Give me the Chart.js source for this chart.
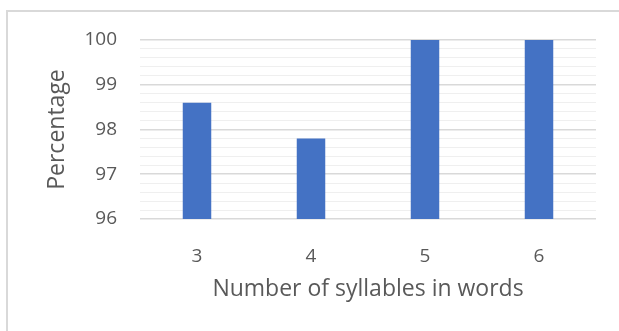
<!DOCTYPE html>
<html>
<head>
<meta charset="utf-8">
<script src="https://cdn.jsdelivr.net/npm/chart.js@4/dist/chart.umd.min.js"></script>
<style>
  html, body { margin: 0; padding: 0; background: #ffffff; }
  #wrap { position: relative; width: 619px; height: 331px; overflow: hidden; }
  #frame { position: absolute; left: 6px; top: 10px; width: 700px; height: 400px;
           border-left: 2px solid #d9d9d9; border-top: 2px solid #d9d9d9; box-sizing: border-box; }
  canvas { position: absolute; left: 0; top: 0; }
</style>
</head>
<body>
<div id="wrap">
  <div id="frame"></div>
  <canvas id="chart" width="619" height="331"></canvas>
</div>
<script>
// Share of correctly handled words, by syllable count
const syllableCounts = ['3', '4', '5', '6'];
const percentages = [98.6, 97.8, 100, 100];
const yMin = 96;
const yMax = 100;
const yStep = 0.2;

const textGrey = '#595959';
const font = 'Open Sans';

const isWhole = v => Math.abs(v - Math.round(v)) < 1e-6;

new Chart(document.getElementById('chart'), {
  type: 'bar',
  data: {
    labels: syllableCounts,
    datasets: [{
      data: percentages,
      backgroundColor: '#4472c4',
      borderWidth: 0,
      categoryPercentage: 1,
      barPercentage: 0.25
    }]
  },
  options: {
    responsive: false,
    animation: false,
    layout: { padding: { top: 40, right: 23, left: 0, bottom: 0 } },
    plugins: { legend: { display: false }, tooltip: { enabled: false } },
    scales: {
      x: {
        grid: { display: false },
        border: { display: false },
        ticks: { color: textGrey, font: { family: font, size: 19 }, padding: 18 },
        title: {
          display: true,
          text: 'Number of syllables in words',
          color: textGrey,
          font: { family: font, size: 23 },
          padding: { top: 0, bottom: 28 }
        },
        afterFit: s => { s.height = 112; }
      },
      y: {
        min: yMin,
        max: yMax,
        border: { display: false },
        grid: {
          drawTicks: false,
          color: c => isWhole(c.tick.value) ? '#d9d9d9' : '#efefef',
          lineWidth: c => isWhole(c.tick.value) ? 1.6 : 1
        },
        ticks: {
          stepSize: yStep,
          autoSkip: false,
          color: textGrey,
          font: { family: font, size: 19 },
          padding: 23,
          callback: v => isWhole(v) ? String(Math.round(v)) : ''
        },
        title: {
          display: true,
          text: 'Percentage',
          color: textGrey,
          font: { family: font, size: 23 },
          padding: { top: 44, bottom: 0 }
        },
        afterFit: s => { s.width = 140; }
      }
    }
  }
});
</script>
</body>
</html>
